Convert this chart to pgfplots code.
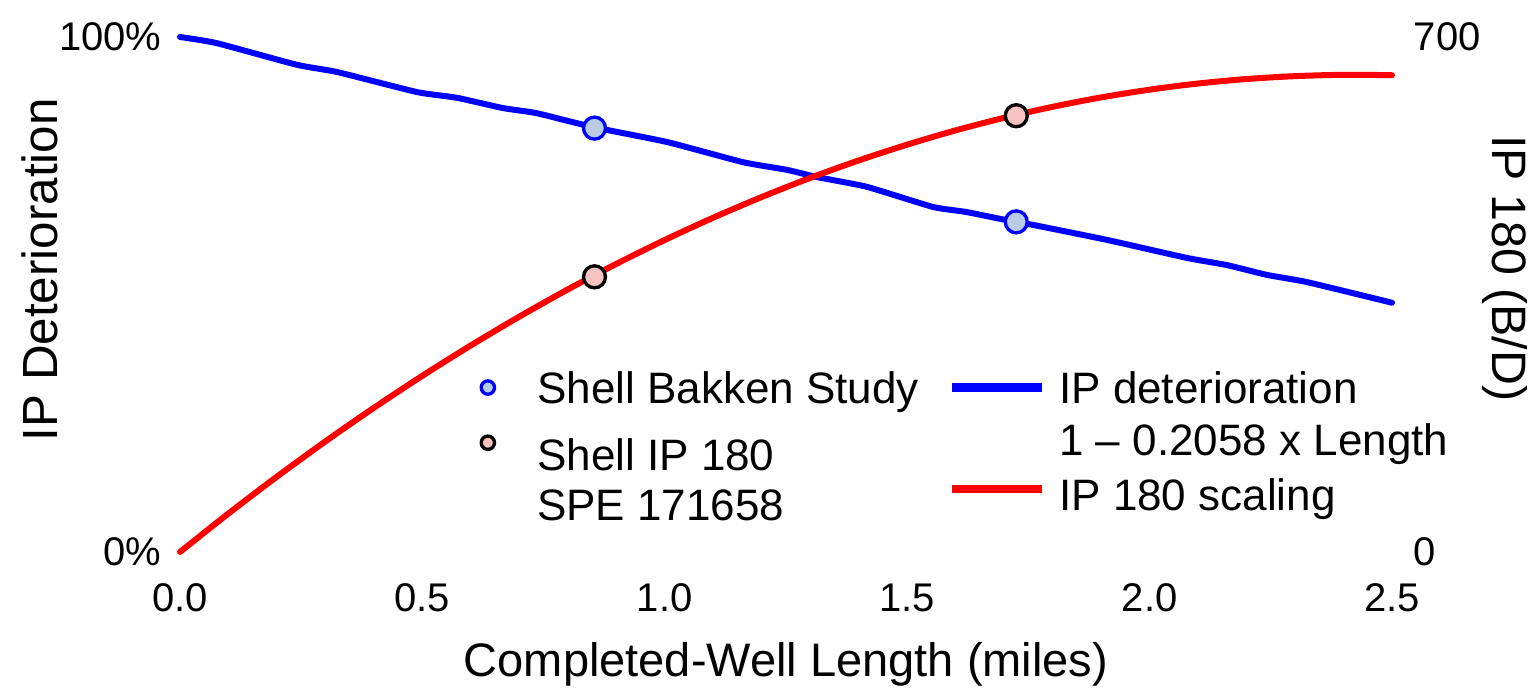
\documentclass[border=0pt]{standalone}
\usepackage{fontspec}
\setmainfont{Liberation Sans}
\usepackage{pgfplots}
\pgfplotsset{compat=1.18}

\definecolor{bakfill}{RGB}{186,204,228}
\definecolor{spefill}{RGB}{249,194,194}

% row struts for the legends: the height above the baseline sets the row pitch
\newcommand{\lstrut}[1]{\rule{0pt}{#1}}

\pgfplotstableread{
x      y
0.000  100.0
0.076  98.8
0.241  94.6
0.324  93.2
0.489  89.3
0.571  88.2
0.666  86.2
0.736  85.2
0.852  82.5
1.005  79.6
1.161  75.7
1.252  74.2
1.314  72.8
1.417  70.9
1.553  67.0
1.623  66.0
1.722  64.1
1.760  63.5
1.912  60.6
2.077  57.1
2.160  55.7
2.242  53.8
2.325  52.4
2.500  48.4
}\deterioration

\pgfplotstableread{
x    y
0.0  0.0
0.1  52.3
0.2  102.4
0.3  150.3
0.4  196.0
0.5  239.5
0.6  280.8
0.7  319.9
0.8  356.9
0.9  391.6
1.0  424.1
1.1  454.4
1.2  482.5
1.3  508.5
1.4  532.2
1.5  553.7
1.6  573.1
1.7  590.2
1.8  605.1
1.9  617.9
2.0  628.4
2.1  636.8
2.2  642.9
2.3  646.8
2.4  648.6
2.5  648.1
}\scaling

\pgfplotsset{
  /pgf/number format/assume math mode=true,
  base/.style={
    width=363.6pt, height=154.5pt, scale only axis,
    xmin=0, xmax=2.5, clip=false,
    axis line style={draw=none},
    major tick length=0pt,
    tick label style={font=\fontsize{12}{14}\selectfont},
    legend style={draw=none, fill=none, inner sep=0pt, row sep=0.6pt,
      font=\fontsize{13.2}{15}\selectfont,
      nodes={inner sep=0pt, outer sep=0pt}},
    legend cell align=left,
  },
}

\begin{document}
\begin{tikzpicture}
\useasboundingbox (-54pt,-42pt) rectangle (407.4pt,165.6pt);

\begin{axis}[
  base,
  ymin=0, ymax=100,
  xtick={0,0.5,1,1.5,2,2.5},
  xticklabel style={/pgf/number format/.cd, fixed, fixed zerofill, precision=1, /tikz/.cd, yshift=-6pt},
  ytick={0,100},
  yticklabels={0\%,100\%},
  yticklabel style={xshift=-2pt},
  xlabel={Completed-Well Length (miles)},
  ylabel={IP Deterioration},
  every axis x label/.style={at={(axis description cs:0.5,-0.219)}, anchor=center,
    font=\fontsize{14.1}{17}\selectfont},
  every axis y label/.style={at={(axis description cs:-0.1155,0.548)}, anchor=center, rotate=90,
    font=\fontsize{14.8}{17}\selectfont},
  legend style={at={(0.230,0.361)}, anchor=north west, column sep=12.8pt},
]
\addplot[blue, line width=1.8pt, line join=round, line cap=round, smooth, tension=0.3, forget plot]
  table[x=x, y=y] {\deterioration};
\addplot[only marks, mark=*, mark size=3.3pt, draw=blue, fill=bakfill, line width=1pt, forget plot]
  coordinates {(0.855,82.3) (1.725,64.1)};

\addlegendimage{only marks, mark=*, mark size=2pt, draw=blue, fill=bakfill, line width=1pt}
\addlegendentry{Shell Bakken Study\lstrut{11pt}}
\addlegendimage{only marks, mark=*, mark size=2pt, draw=black, fill=spefill, line width=1pt}
\addlegendentry{Shell IP 180\lstrut{17.9pt}}
\addlegendimage{empty legend}
\addlegendentry{SPE 171658\lstrut{13.1pt}}
\end{axis}

\begin{axis}[
  base,
  ymin=0, ymax=700,
  hide x axis,
  axis y line*=right,
  ytick={0,700},
  yticklabel style={xshift=3pt},
  ylabel={IP 180 (B/D)},
  every axis y label/.style={at={(axis description cs:1.093,0.551)}, anchor=center, rotate=-90,
    font=\fontsize{14.5}{17}\selectfont},
  legend style={at={(0.6325,0.361)}, anchor=north west, column sep=4pt},
  legend image code/.code={\draw[#1] (0pt,0pt) -- (27pt,0pt);},
]
\addplot[red, line width=1.8pt, line cap=round, smooth, forget plot]
  table[x=x, y=y] {\scaling};
\addplot[only marks, mark=*, mark size=3.3pt, draw=black, fill=spefill, line width=1pt, forget plot]
  coordinates {(0.855,374) (1.725,593)};

\addlegendimage{blue, line width=2.6pt}
\addlegendentry{IP deterioration\lstrut{11pt}}
\addlegendimage{empty legend}
\addlegendentry{1 – 0.2058 x Length\lstrut{13.4pt}}
\addlegendimage{red, line width=2.6pt}
\addlegendentry{IP 180 scaling\lstrut{14.6pt}}
\end{axis}
\end{tikzpicture}
\end{document}
